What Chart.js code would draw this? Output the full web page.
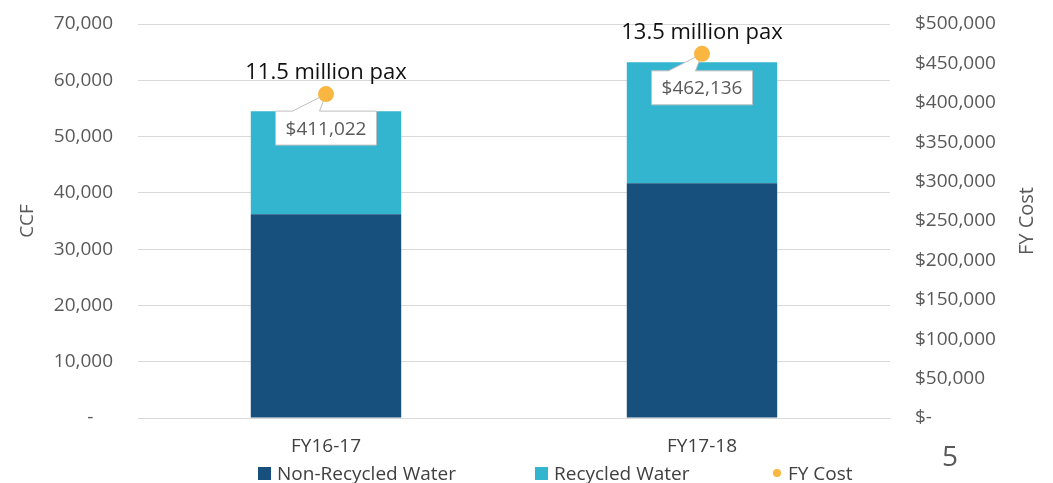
<!DOCTYPE html>
<html>
<head>
<meta charset="utf-8">
<script src="https://cdn.jsdelivr.net/npm/chart.js@4/dist/chart.umd.min.js"></script>
<style>
  html, body { margin: 0; padding: 0; background: #fff; }
  #wrap { position: relative; width: 1053px; height: 483px; font-family: "Open Sans", sans-serif; }
  #page-no { position: absolute; left: 942px; top: 436px; font-size: 28px; color: #595959; }
  .lg { position: absolute; top: 460px; height: 26px; line-height: 26px; font-size: 19px; color: #404040; white-space: nowrap; }
  .lg i { position: absolute; left: 0; }
  .lg i.sq { top: 7px; width: 13px; height: 13px; }
  .lg i.dot { top: 9px; width: 8px; height: 8px; border-radius: 50%; }
</style>
</head>
<body>
<div id="wrap">
  <canvas id="chart"></canvas>
  <div id="legend"></div>
  <div id="page-no">5</div>
</div>
<script>
// values
const categories = ["FY16-17", "FY17-18"];
const nonRecycled = [36200, 41700];
const recycled = [18300, 21500];
const fyCost = [411022, 462136];
const paxLabels = ["11.5 million pax", "13.5 million pax"];
const costLabels = ["$411,022", "$462,136"];

const FONT = "'Open Sans', sans-serif";
const GREY = "#595959";
const COLORS = { non: "#174f7d", rec: "#33b4cf", cost: "#f9b640" };

// callout boxes + pax text drawn at the cost points
const calloutPlugin = {
  id: "callouts",
  beforeDatasetDraw(chart, args) {
    if (args.index !== 2) return;
    const ctx = chart.ctx;
    const pts = chart.getDatasetMeta(2).data;
    ctx.save();
    pts.forEach((pt, i) => {
      ctx.font = "19px " + FONT;
      const w = ctx.measureText(costLabels[i]).width + 20;
      const h = 34;
      const left = pt.x - w / 2, top = pt.y + 17;
      ctx.fillStyle = "#fff";
      ctx.strokeStyle = "#bfbfbf";
      ctx.lineWidth = 1;
      ctx.beginPath();
      ctx.moveTo(left, top);
      ctx.lineTo(left + 17, top);
      ctx.lineTo(pt.x, pt.y);
      ctx.lineTo(left + 44, top);
      ctx.lineTo(left + w, top);
      ctx.lineTo(left + w, top + h);
      ctx.lineTo(left, top + h);
      ctx.closePath();
      ctx.fill();
      ctx.stroke();
      ctx.fillStyle = GREY;
      ctx.textAlign = "center";
      ctx.textBaseline = "middle";
      ctx.fillText(costLabels[i], pt.x, top + h / 2 + 1);

      ctx.font = "22px " + FONT;
      ctx.fillStyle = "#111";
      ctx.fillText(paxLabels[i], pt.x, pt.y - 21);
    });
    ctx.restore();
  },
  // right axis title reads bottom-to-top like the original
  afterDraw(chart) {
    const ctx = chart.ctx, a = chart.chartArea;
    ctx.save();
    ctx.translate(1027, (a.top + a.bottom) / 2);
    ctx.rotate(-Math.PI / 2);
    ctx.font = "20px " + FONT;
    ctx.fillStyle = GREY;
    ctx.textAlign = "center";
    ctx.textBaseline = "middle";
    ctx.fillText("FY Cost", 0, 0);
    ctx.restore();
  }
};

const noPad = s => { s.paddingTop = 0; s.paddingBottom = 0; };

const chart = new Chart(document.getElementById("chart"), {
  data: {
    labels: categories,
    datasets: [
      { type: "bar", label: "Non-Recycled Water", data: nonRecycled, backgroundColor: COLORS.non,
        yAxisID: "y", order: 1, categoryPercentage: 0.4, barPercentage: 1 },
      { type: "bar", label: "Recycled Water", data: recycled, backgroundColor: COLORS.rec,
        yAxisID: "y", order: 1, categoryPercentage: 0.4, barPercentage: 1 },
      { type: "line", label: "FY Cost", data: fyCost, yAxisID: "y1", order: 0, showLine: false,
        pointStyle: "circle", pointRadius: 8, pointHoverRadius: 8,
        backgroundColor: COLORS.cost, borderColor: COLORS.cost, borderWidth: 0 }
    ]
  },
  options: {
    responsive: true,
    maintainAspectRatio: false,
    animation: false,
    layout: { padding: { top: 24, right: 0, bottom: 15, left: 0 } },
    plugins: {
      tooltip: { enabled: false },
      legend: { display: false }
    },
    scales: {
      x: {
        stacked: true,
        grid: { display: false, drawTicks: false },
        border: { color: "#d9d9d9" },
        ticks: { color: "#404040", font: { family: FONT, size: 19 }, padding: 17 },
        afterFit: s => { s.height = 50; }
      },
      y: {
        stacked: true, position: "left", min: 0, max: 70000,
        grid: { color: "#d9d9d9", drawTicks: false },
        border: { display: false },
        ticks: {
          stepSize: 10000, padding: 25, color: GREY, font: { family: FONT, size: 19 },
          callback: v => v === 0 ? "-    " : v.toLocaleString("en-US")
        },
        title: { display: true, text: "CCF", color: GREY, font: { family: FONT, size: 19 }, padding: { top: 16, bottom: 0 } },
        afterFit: s => { s.width = 138; noPad(s); }
      },
      y1: {
        position: "right", min: 0, max: 500000,
        grid: { display: false, drawTicks: false },
        border: { display: false },
        ticks: {
          stepSize: 50000, padding: 25, color: GREY, font: { family: FONT, size: 19 },
          callback: v => v === 0 ? "$-" : "$" + v.toLocaleString("en-US")
        },
        afterFit: s => { s.width = 163; noPad(s); }
      }
    }
  },
  plugins: [calloutPlugin]
});

// legend laid out like the original (uneven gaps)
const legendPos = [258, 535, 773];
document.getElementById("legend").innerHTML = chart.data.datasets.map((d, i) => {
  const isDot = d.type === "line";
  return `<div class="lg" style="left:${legendPos[i]}px;padding-left:${isDot ? 15 : 19}px">` +
    `<i class="${isDot ? "dot" : "sq"}" style="background:${d.backgroundColor}"></i>${d.label}</div>`;
}).join("");
</script>
</body>
</html>
